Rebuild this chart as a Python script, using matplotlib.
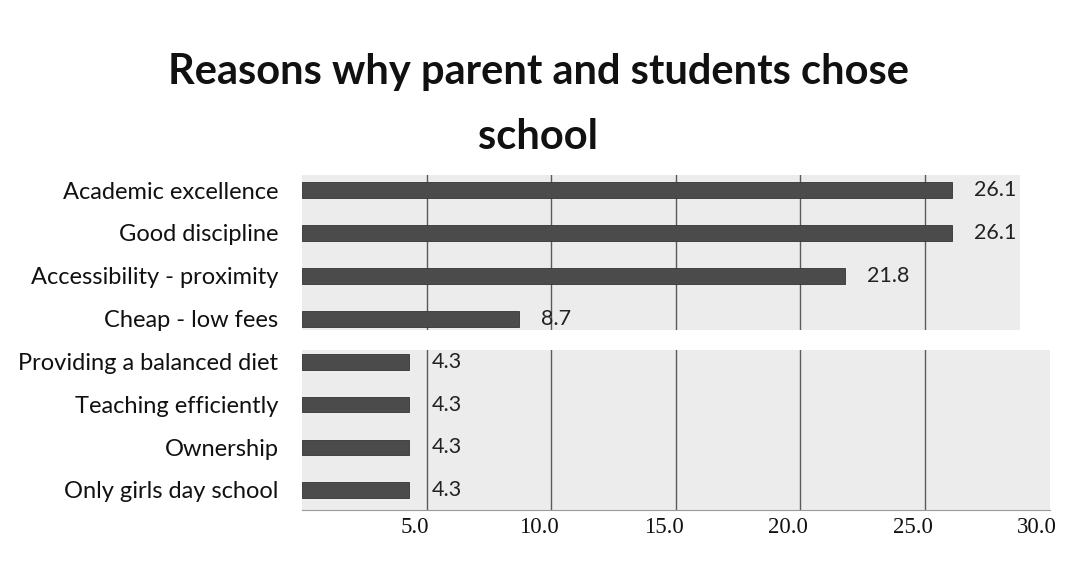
import matplotlib
matplotlib.use("Agg")
import matplotlib.pyplot as plt
from matplotlib.transforms import ScaledTranslation

# data
reasons_top = ["Academic excellence", "Good discipline",
               "Accessibility - proximity", "Cheap - low fees"]
values_top = [26.1, 26.1, 21.8, 8.7]
reasons_bottom = ["Providing a balanced diet", "Teaching efficiently",
                  "Ownership", "Only girls day school"]
values_bottom = [4.3, 4.3, 4.3, 4.3]
xticks = [5, 10, 15, 20, 25, 30]
xtick_labels = ["5.0", "10.0", "15.0", "20.0", "25.0", "30.0"]

W, H = 1076, 567
fig = plt.figure(figsize=(W / 100, H / 100), dpi=100)

bar_col = "#4b4b4b"
bg_col = "#ececec"
grid_col = "#5a5a5a"

fig.text(0.5, 1 - 84 / H, "Reasons why parent and students chose",
         ha="center", va="baseline", fontsize=30, fontweight="bold",
         family="Lato", color="#111111")
fig.text(0.5, 1 - 149 / H, "school",
         ha="center", va="baseline", fontsize=30, fontweight="bold",
         family="Lato", color="#111111")

ppu = 24.9  # pixels per unit on x
x0 = 302


def panel(rect_px, labels, vals, ylim, xmax_px):
    left, top, right, bottom = rect_px
    ax = fig.add_axes([left / W, 1 - bottom / H, (right - left) / W, (bottom - top) / H])
    ax.set_facecolor(bg_col)
    pos = list(range(len(labels)))
    ax.barh(pos, vals, height=0.36, color=bar_col, edgecolor="#333333", linewidth=0.6, zorder=3)
    ax.set_xlim(0, (xmax_px - x0) / ppu)
    ax.set_ylim(*ylim)
    for g in [5, 10, 15, 20, 25]:
        ax.axvline(g, color=grid_col, lw=1, zorder=1)
    ax.set_yticks(pos)
    ax.set_yticklabels(labels, family="Lato", fontsize=17, color="#111111")
    ax.tick_params(axis="y", length=0, pad=17)
    for p, v in zip(pos, vals):
        ax.text(v + 0.9, p, f"{v:.1f}", va="center", ha="left", fontsize=15.5,
                family="Lato", color="#222222", zorder=4)
    for s in ax.spines.values():
        s.set_visible(False)
    return ax


ax1 = panel((x0, 175, 1020, 330), reasons_top, values_top, (3.26, -0.35), 1020)
ax1.set_xticks([])
ax2 = panel((x0, 350, 1050, 510), reasons_bottom, values_bottom, (3.47, -0.28), 1050)
ax2.spines["bottom"].set_visible(True)
ax2.spines["bottom"].set_color("#9a9a9a")
ax2.set_xticks(xticks)
ax2.set_xticklabels(xtick_labels, family="Liberation Serif", fontsize=16.5, color="#111111")
ax2.tick_params(axis="x", length=0, pad=5)
for lab in ax2.get_xticklabels():
    lab.set_transform(lab.get_transform() + ScaledTranslation(-0.12, 0, fig.dpi_scale_trans))

fig.savefig("out.png", dpi=100, facecolor="white")
